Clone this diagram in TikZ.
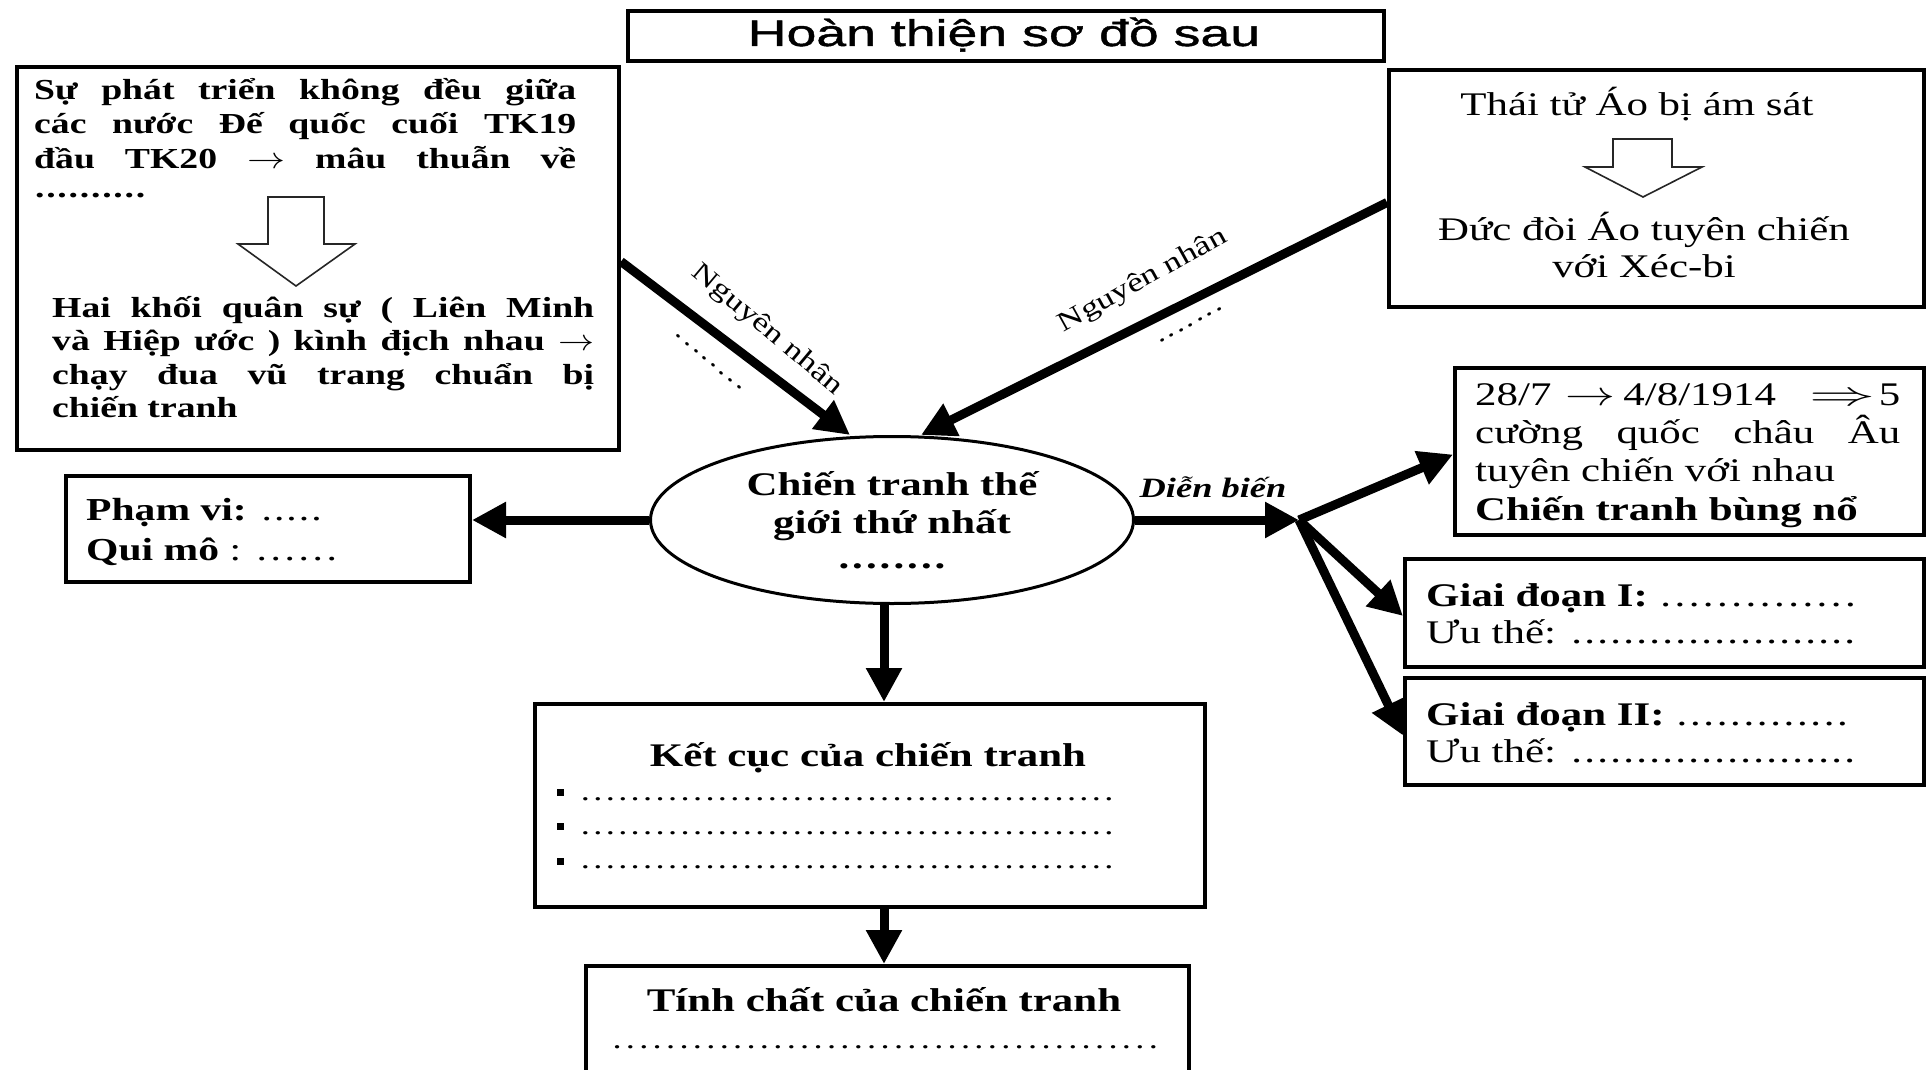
\documentclass[tikz,border=0pt]{standalone}
\usepackage{graphicx}
\usepackage{fontspec}
\setmainfont{Liberation Serif}[FakeStretch=1.3]
\newfontfamily\titlefont{Liberation Sans}[FakeStretch=1.45,FakeBold=1.2]
\usetikzlibrary{shapes.geometric,arrows.meta,calc}
\newcommand\fs[1]{\fontsize{#1}{#1}\selectfont}
\newcommand\drow[2]{\hbox to #2{\xleaders\hbox to \dimexpr#2/#1\relax{\hss.\hss}\hfill}}
\newcommand\jl[2]{\makebox[#1][s]{#2}}
\newcommand\arr[2]{\scalebox{#1}[#2]{\fontsize{10}{10}\selectfont$\rightarrow$}}
\newcommand\Arr[2]{\scalebox{#1}[#2]{\fontsize{10}{10}\selectfont$\Rightarrow$}}
\begin{document}
\begin{tikzpicture}[x=1pt,y=-1pt,
  box/.style={draw, line width=4pt, inner sep=0pt, anchor=north west},
  big/.style={line width=9pt, -{Triangle[length=34pt,width=34pt]}},
  txt/.style={inner sep=0pt, anchor=base west},
  ctxt/.style={inner sep=0pt, anchor=base},
  hollow/.style={line width=1.6pt, draw=black!85, fill=white, line join=miter}]
\useasboundingbox (0,0) rectangle (1931,1070);
\clip (0,0) rectangle (1931,1070);
\fill[white] (0,0) rectangle (1931,1070);

% boxes
\node[box, minimum width=756pt, minimum height=50pt] (ttl) at (626,9) {};
\node[box, minimum width=602pt, minimum height=383pt] (lt) at (15,65) {};
\node[box, minimum width=535pt, minimum height=237pt] (rt) at (1387,68) {};
\node[draw, line width=3pt, ellipse, inner sep=0pt, minimum width=483pt, minimum height=167pt] (ell) at (892,520) {};
\node[box, minimum width=404pt, minimum height=106pt] (pv) at (64,474) {};
\node[box, minimum width=469pt, minimum height=167pt] (b1) at (1453,366) {};
\node[box, minimum width=519pt, minimum height=108pt] (g1) at (1403,557) {};
\node[box, minimum width=519pt, minimum height=107pt] (g2) at (1403,676) {};
\node[box, minimum width=670pt, minimum height=203pt] (kc) at (533,702) {};
\node[box, minimum width=603pt, minimum height=130pt] (tc) at (584,964) {};

% title
\node[ctxt] (ttlt) at (1004,46) {\titlefont\fs{37}Hoàn thiện sơ đồ sau};

% left top box
\node[txt] (lt1) at (34,100) {\fs{29}\bfseries\jl{542pt}{Sự phát triển không đều giữa}};
\node[txt] (lt2) at (34,134) {\fs{29}\bfseries\jl{542pt}{các nước Đế quốc cuối TK19}};
\node[txt] (lt3) at (34,168) {\fs{29}\bfseries\jl{542pt}{đầu TK20 \arr{3.8}{3.0} mâu thuẫn về}};
\node[txt] (lt4) at (34,197) {\fs{29}\bfseries\drow{10}{112pt}};
\draw[hollow] (268,197) -- (324,197) -- (324,244) -- (355,244) -- (296,286) -- (238,244) -- (268,244) -- cycle;
\node[txt] (lt5) at (52,317) {\fs{29}\bfseries\jl{542pt}{Hai khối quân sự ( Liên Minh}};
\node[txt] (lt6) at (52,350) {\fs{29}\bfseries\jl{542pt}{và Hiệp ước ) kình địch nhau \arr{3.6}{3.0}}};
\node[txt] (lt7) at (52,384) {\fs{29}\bfseries\jl{542pt}{chạy đua vũ trang chuẩn bị}};
\node[txt] (lt8) at (52,417) {\fs{29}\bfseries chiến tranh};

% right top box
\node[ctxt] (rt1) at (1637,116) {\fs{33}Thái tử Áo bị ám sát};
\draw[hollow] (1613,139) -- (1672,139) -- (1672,167) -- (1702,167) -- (1643,197) -- (1585,167) -- (1613,167) -- cycle;
\node[ctxt] (rt2) at (1644,240) {\fs{33}Đức đòi Áo tuyên chiến};
\node[ctxt] (rt3) at (1644,277) {\fs{33}với Xéc-bi};

% ellipse text
\node[ctxt] (e1) at (892,495) {\fs{33}\bfseries Chiến tranh thế};
\node[ctxt] (e2) at (892,533) {\fs{33}\bfseries giới thứ nhất};
\node[ctxt] (e3) at (892,568) {\fs{33}\bfseries\drow{8}{110pt}};

% pham vi
\node[txt] (pv1) at (86,520) {\fs{32}\textbf{Phạm vi:} \drow{5}{62pt}};
\node[txt] (pv2) at (86,560) {\fs{32}\textbf{Qui mô} : \drow{6}{84pt}};

% dien bien boxes
\node[txt] (b1a) at (1475,405) {\fs{33}\makebox[425pt][l]{28/7\hspace{14pt}\arr{5.0}{3.4}\hspace{8pt}4/8/1914\hfill\Arr{6.6}{3.4}\hspace{3pt}5}};
\node[txt] (b1b) at (1475,443) {\fs{33}\jl{425pt}{cường quốc châu Âu}};
\node[txt] (b1c) at (1475,481) {\fs{33}tuyên chiến với nhau};
\node[txt] (b1d) at (1475,520) {\fs{33}\bfseries Chiến tranh bùng nổ};

\node[txt] (g1a) at (1426,606) {\fs{33}\textbf{Giai đoạn I:} \drow{14}{199pt}};
\node[txt] (g1b) at (1426,643) {\fs{33}Ưu thế: \drow{22}{286pt}};
\node[txt] (g2a) at (1426,725) {\fs{33}\textbf{Giai đoạn II:} \drow{13}{174pt}};
\node[txt] (g2b) at (1426,762) {\fs{33}Ưu thế: \drow{22}{286pt}};

% ket cuc
\node[ctxt] (kct) at (868,766) {\fs{33}\bfseries Kết cục của chiến tranh};
\node[fill, minimum size=7pt, inner sep=0pt] (kb1) at (560,792) {};
\node[fill, minimum size=7pt, inner sep=0pt] (kb2) at (560,826) {};
\node[fill, minimum size=7pt, inner sep=0pt] (kb3) at (560,861) {};
\node[txt] (kd1) at (579,800) {\fs{28}\drow{43}{536pt}};
\node[txt] (kd2) at (579,834) {\fs{28}\drow{43}{536pt}};
\node[txt] (kd3) at (579,868) {\fs{28}\drow{43}{536pt}};

% tinh chat
\node[ctxt] (tct) at (884,1011) {\fs{33}\bfseries Tính chất của chiến tranh};
\node[txt] (tcd) at (610,1048) {\fs{28}\drow{42}{550pt}};

% connectors
\coordinate (ax) at (884,0);
\coordinate (br) at (1299,520);
\draw[big] ([yshift=-3pt]lt.east) -- ([xshift=-42pt]ell.north);
\draw[big] ([yshift=-14pt]rt.west) -- ([xshift=29pt]ell.north);
\draw[big] (ell.west) -- (ell.west -| pv.east);
\draw[big] (ax |- ell.south) -- (ax |- kc.north);
\draw[big] (ax |- kc.south) -- (ax |- tc.north);
\draw[big] (ell.east) -- (br);
\draw[big] (br) -- ([yshift=-3pt]b1.west);
\draw[big] (br) -- ([yshift=-3pt]g1.west);
\draw[big] (br) -- ([yshift=-4pt]g2.west);

% labels
\node[rotate=-40, inner sep=0pt] (nn1) at (767,330) {\fs{27}Nguyên nhân};
\node[rotate=-40, inner sep=0pt] (nd1) at (709,362) {\fs{26}\drow{8}{90pt}};
\node[rotate=29, inner sep=0pt] (nn2) at (1143,281) {\fs{27}Nguyên nhân};
\node[rotate=29, inner sep=0pt] (nd2) at (1191,325) {\fs{26}\drow{7}{76pt}};
\node[ctxt] (db) at (1213,497) {\fs{28}\bfseries\itshape Diễn biến};
\end{tikzpicture}
\end{document}
